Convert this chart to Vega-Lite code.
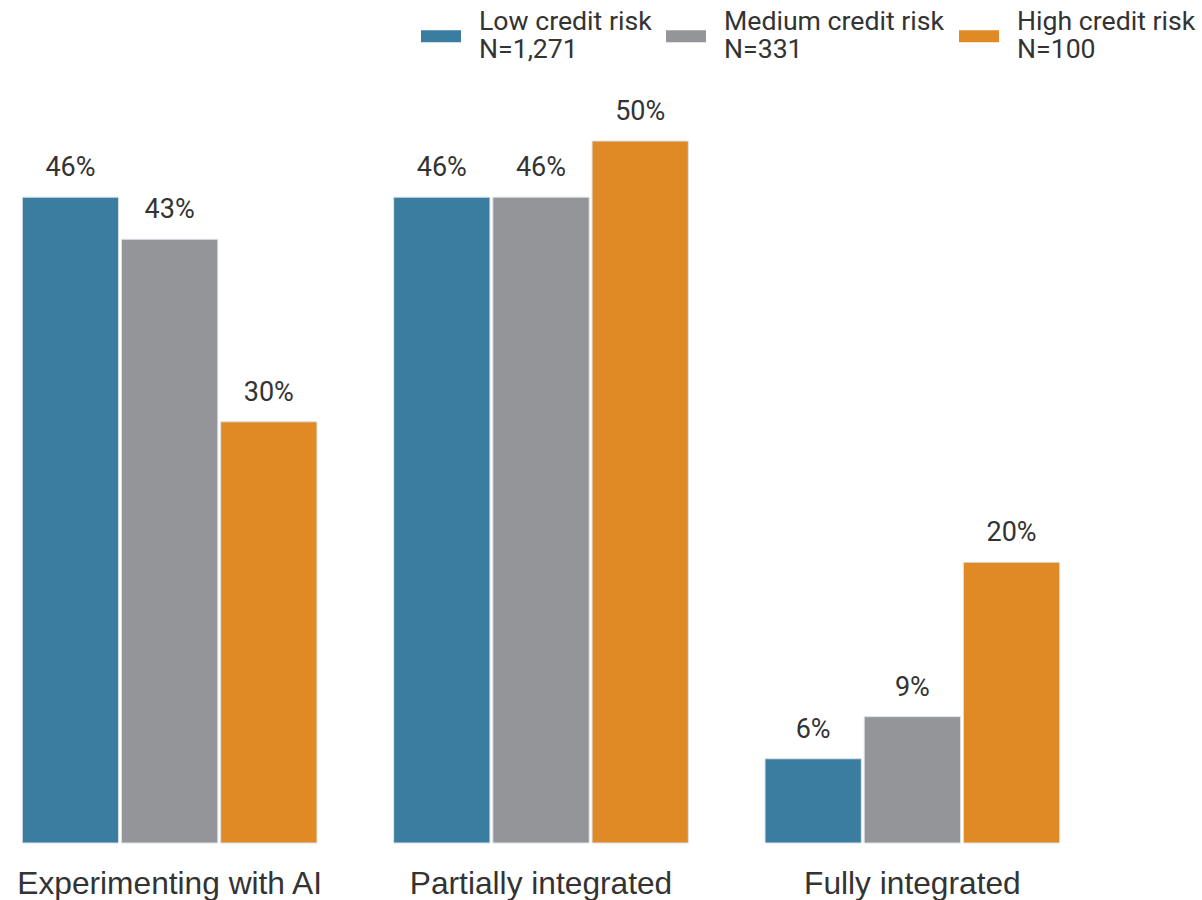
{
  "$schema": "https://vega.github.io/schema/vega-lite/v6.json",
  "width": 1082,
  "height": 702,
  "autosize": {"type": "none"},
  "padding": {"left": 0, "top": 141, "right": 120, "bottom": 57},
  "background": "white",
  "config": {
    "view": {"stroke": null},
    "font": "Roboto",
    "style": {"guide-label": {"lineHeight": 28}}
  },
  "data": {
    "values": [
      {"category": "Experimenting with AI", "risk": "Low credit risk", "value": 0.46},
      {"category": "Experimenting with AI", "risk": "Medium credit risk", "value": 0.43},
      {"category": "Experimenting with AI", "risk": "High credit risk", "value": 0.30},
      {"category": "Partially integrated", "risk": "Low credit risk", "value": 0.46},
      {"category": "Partially integrated", "risk": "Medium credit risk", "value": 0.46},
      {"category": "Partially integrated", "risk": "High credit risk", "value": 0.50},
      {"category": "Fully integrated", "risk": "Low credit risk", "value": 0.06},
      {"category": "Fully integrated", "risk": "Medium credit risk", "value": 0.09},
      {"category": "Fully integrated", "risk": "High credit risk", "value": 0.20}
    ]
  },
  "encoding": {
    "x": {
      "field": "category",
      "type": "nominal",
      "sort": ["Experimenting with AI", "Partially integrated", "Fully integrated"],
      "scale": {"paddingInner": 0.2064, "paddingOuter": 0.06},
      "title": null,
      "axis": {
        "ticks": false,
        "domain": false,
        "grid": false,
        "labelAngle": 0,
        "labelFont": "Liberation Sans",
        "labelFontSize": 31.7,
        "labelColor": "#333333",
        "labelPadding": 25,
        "labelLimit": 500
      }
    },
    "xOffset": {
      "field": "risk",
      "type": "nominal",
      "sort": ["Low credit risk", "Medium credit risk", "High credit risk"],
      "scale": {"paddingInner": 0.029, "paddingOuter": 0}
    },
    "y": {
      "field": "value",
      "type": "quantitative",
      "scale": {"domain": [0, 0.5], "nice": false},
      "axis": null
    }
  },
  "layer": [
    {
      "mark": {"type": "bar", "stroke": "#dce3ea", "strokeWidth": 1},
      "encoding": {
        "color": {
          "field": "risk",
          "type": "nominal",
          "sort": ["Low credit risk", "Medium credit risk", "High credit risk"],
          "scale": {
            "domain": ["Low credit risk", "Medium credit risk", "High credit risk"],
            "range": ["#3a7da0", "#949599", "#e08a26"]
          },
          "legend": {
            "title": null,
            "orient": "none",
            "direction": "horizontal",
            "legendX": 421,
            "legendY": -125,
            "padding": 0,
            "symbolType": "M-1,-0.3H1V0.3H-1Z",
            "symbolSize": 1600,
            "symbolStrokeWidth": 0,
            "symbolOpacity": 1,
            "labelOffset": 18,
            "columnPadding": 14,
            "labelFontSize": 26.67,
            "labelBaseline": "bottom",
            "labelColor": "#333333",
            "labelLimit": 400,
            "labelExpr": "datum.label == 'Low credit risk' ? ['Low credit risk', 'N=1,271'] : datum.label == 'Medium credit risk' ? ['Medium credit risk', 'N=331'] : ['High credit risk', 'N=100']"
          }
        }
      }
    },
    {
      "mark": {
        "type": "text",
        "baseline": "alphabetic",
        "dy": -21,
        "fontSize": 27,
        "color": "#333333"
      },
      "encoding": {
        "text": {"field": "value", "type": "quantitative", "format": ".0%"},
        "detail": {"field": "risk"}
      }
    }
  ]
}
